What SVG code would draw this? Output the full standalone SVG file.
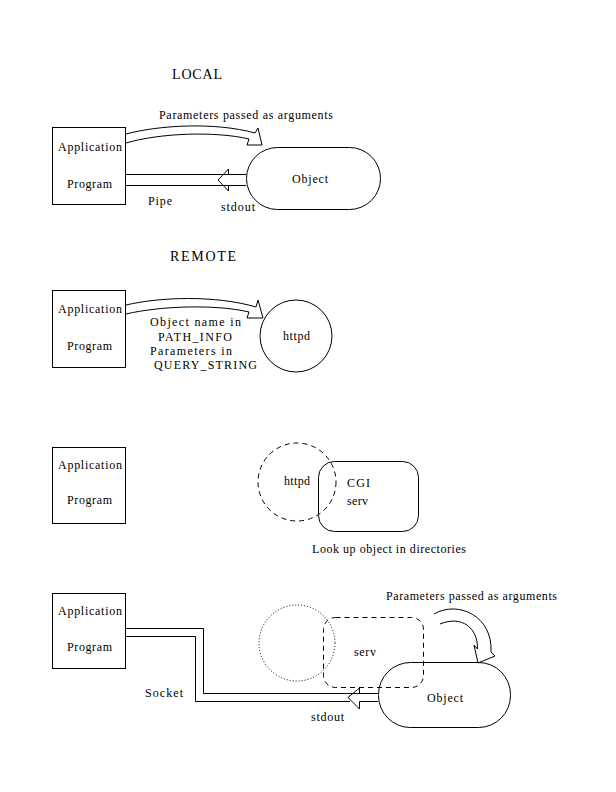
<svg xmlns="http://www.w3.org/2000/svg" width="616" height="792" viewBox="0 0 616 792">
<style>
text{font-family:"Liberation Serif","Times New Roman",serif;font-size:12px;fill:#000}
.h{font-size:14px}
.s{fill:none;stroke:#000;stroke-width:1}
.dash{stroke-dasharray:5,4}
.dot{stroke-dasharray:1,2}
</style>
<rect width="616" height="792" fill="#fff"/>

<!-- Section LOCAL -->
<text class="h" x="172" y="79" textLength="50">LOCAL</text>
<g id="app1">
<rect class="s" x="52.5" y="127.5" width="73" height="77"/>
<text x="58" y="151" textLength="64">Application</text>
<text x="67" y="188" textLength="45">Program</text>
</g>
<g id="obj1">
<rect class="s" x="246.5" y="147.5" width="134" height="62" rx="31" ry="31"/>
<text x="292" y="183" textLength="36">Object</text>
</g>

<!-- Section REMOTE -->
<text class="h" x="170" y="261" textLength="66">REMOTE</text>
<g id="app2">
<rect class="s" x="52.5" y="290.5" width="73" height="77"/>
<text x="58" y="313" textLength="64">Application</text>
<text x="67" y="350" textLength="45">Program</text>
</g>
<g id="httpd2">
<circle class="s" cx="296" cy="336" r="36"/>
<text x="283" y="340" textLength="27">httpd</text>
</g>

<!-- Section 3 -->
<g id="app3">
<rect class="s" x="52.5" y="447.5" width="73" height="76"/>
<text x="58" y="469" textLength="64">Application</text>
<text x="67" y="504" textLength="45">Program</text>
</g>
<g id="httpd3">
<circle class="s dash" cx="297" cy="482" r="39"/>
<text x="284" y="485" textLength="26">httpd</text>
</g>
<g id="cgi3">
<rect class="s" x="318.5" y="461.5" width="100" height="70" rx="16" ry="16"/>
<text x="347" y="487" textLength="23">CGI</text>
<text x="347" y="505" textLength="21">serv</text>
</g>
<text x="312" y="553" textLength="154">Look up object in directories</text>

<!-- Section 4 -->
<g id="app4">
<rect class="s" x="52.5" y="593.5" width="73" height="75"/>
<text x="58" y="615" textLength="64">Application</text>
<text x="67" y="651" textLength="45">Program</text>
</g>
<g id="httpd4">
<circle class="s dot" cx="297" cy="643" r="38"/>
</g>
<g id="serv4">
<rect class="s dash" x="323.5" y="617.5" width="100" height="70" rx="12" ry="12"/>
<text x="354" y="656" textLength="22">serv</text>
</g>
<g id="obj4">
<rect class="s" x="378.5" y="662.5" width="132" height="65" rx="32" ry="32"/>
<text x="427" y="702" textLength="36">Object</text>
</g>
<text x="386" y="600" textLength="171">Parameters passed as arguments</text>

<!-- Connectors -->
<g id="connectors">
<!-- LOCAL: parameters arrow -->
<path class="s" d="M126,134 C160,125 215,122 255,133 L258,128 L262,145 L247,145 L249,139 C215,131 160,133 126,143"/>
<text x="159" y="119" textLength="174">Parameters passed as arguments</text>
<!-- LOCAL: pipe arrow -->
<path class="s" d="M126,174.5 H228.5 V169 L218,180 L228.5,191 V185.5 H126"/>
<path class="s" d="M228.5,174.5 H246 M228.5,185.5 H246"/>
<text x="148" y="205" textLength="24">Pipe</text>
<text x="221" y="211" textLength="34">stdout</text>

<!-- REMOTE: arrow to httpd -->
<path class="s" d="M126,305 C160,297 215,295 256,307 L258,300 L263,318 L247,318 L249,312 C215,304 160,306 126,314"/>
<text x="150" y="326" textLength="91">Object name in</text>
<text x="158" y="341" textLength="74">PATH_INFO</text>
<text x="150" y="355" textLength="82">Parameters in</text>
<text x="154" y="369" textLength="103">QUERY_STRING</text>

<!-- Section 4: socket -->
<path class="s" d="M126,628.5 H203.5 V693.5 H378"/>
<path class="s" d="M126,636.5 H195.5 V701.5 H350"/>
<path class="s" d="M359.5,701.5 H378"/>
<path class="s" d="M359.5,693.5 V688 L348,697.5 L359.5,709 V701.5"/>
<text x="145" y="697" textLength="38">Socket</text>
<text x="311" y="721" textLength="33">stdout</text>
<!-- Section 4: parameters curved arrow -->
<path class="s" d="M434,614 C458,600 493,616 491,652 L495,656 L478,663 L474,645 L477.5,649 C478,628 462,615 440,624"/>
</g>
</svg>
